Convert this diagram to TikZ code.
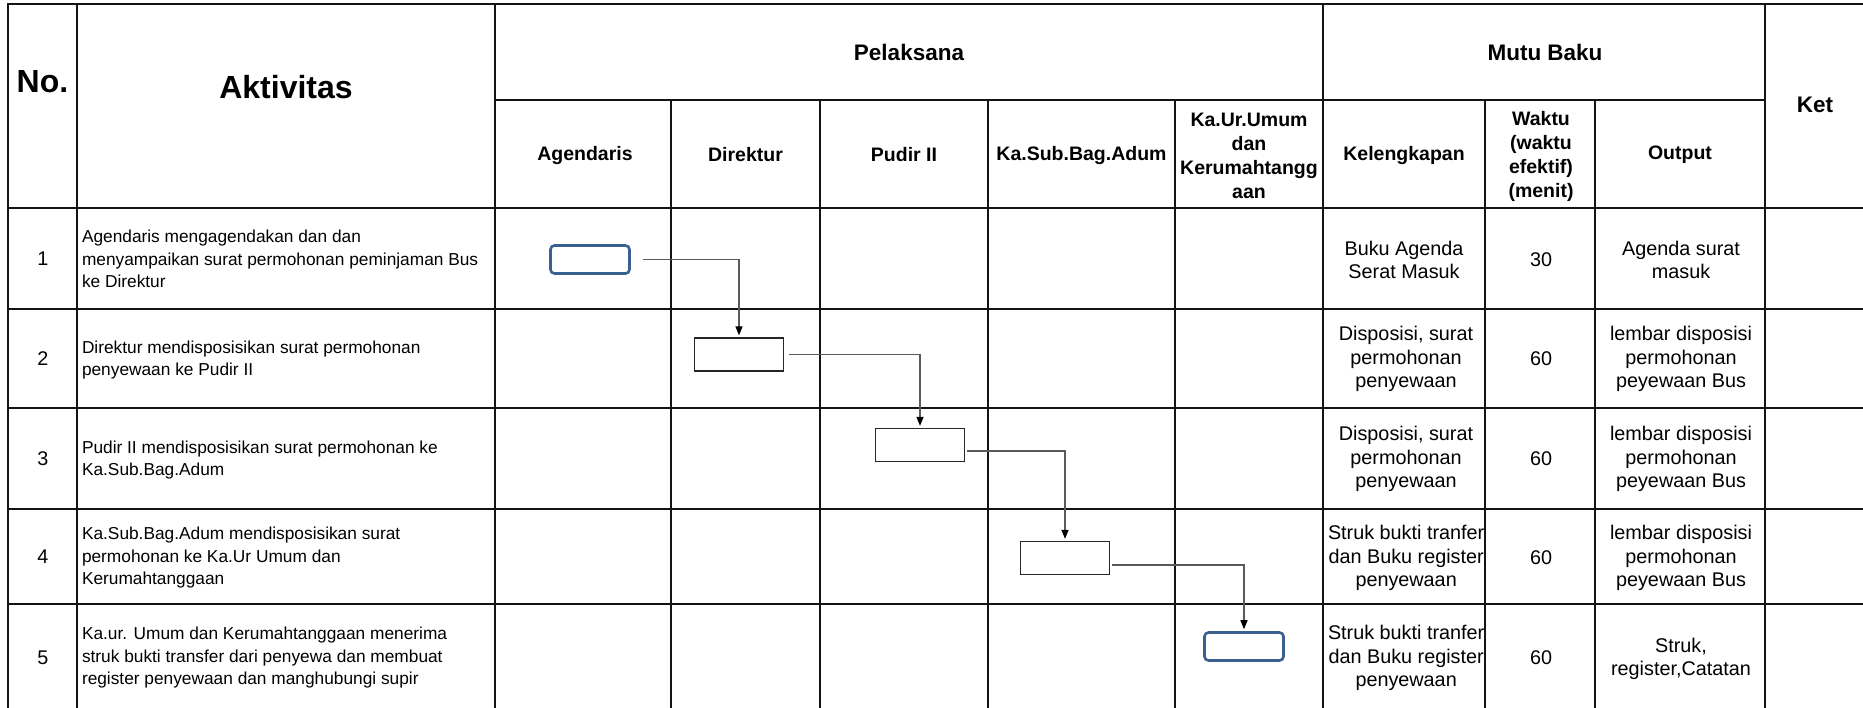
\documentclass[tikz,border=0pt]{standalone}
\usepackage{fontspec}
\setmainfont{Liberation Sans}
\usetikzlibrary{arrows.meta,calc}
\definecolor{boxblue}{RGB}{58,95,145}
\definecolor{arrowgray}{RGB}{90,90,90}
\definecolor{gridline}{RGB}{20,20,20}
\newcommand{\fbig}{\bfseries\fontsize{32}{36}\selectfont}
\newcommand{\fgroup}{\bfseries\fontsize{22.5}{26}\selectfont}
\newcommand{\fcol}{\bfseries\fontsize{19.5}{24}\selectfont}
\newcommand{\fbody}{\fontsize{17.3}{22.5}\selectfont}
\newcommand{\fmutu}{\fontsize{19.8}{23.6}\selectfont}
\begin{document}
\begin{tikzpicture}[x=1pt,y=-1pt,
  gridl/.style={line width=1.9pt, draw=gridline, line cap=rect},
  txt/.style={inner sep=0pt, outer sep=0pt},
  bigh/.style={txt, font=\fbig},
  grouph/.style={txt, font=\fgroup},
  colh/.style={txt, font=\fcol, align=center},
  body/.style={txt, font=\fbody, align=left, anchor=west},
  mutu/.style={txt, font=\fmutu, align=center},
  termbox/.style={draw=boxblue, line width=2.6pt, rounded corners=4pt, minimum width=79pt, minimum height=28pt, inner sep=0pt},
  procbox/.style={draw=black!85, line width=1.3pt, minimum width=89pt, minimum height=33pt, inner sep=0pt},
  flow/.style={draw=arrowgray, line width=1.3pt, -{Triangle[length=9pt,width=7pt,fill=black,color=black]}, shorten >=2pt}
]
\useasboundingbox (0,0) rectangle (1863,707);
\fill[white] (0,0) rectangle (1863,707);

% ---------- header texts ----------
\node[bigh] (hno) at (42.5,82) {No.};
\node[bigh] (hakt) at (286,87) {Aktivitas};
\node[grouph] (hpel) at (909,52) {Pelaksana};
\node[grouph] (hmutu) at (1545,52) {Mutu Baku};
\node[grouph] (hket) at (1815,105) {Ket};

\node[colh] (cagen) at (585,155) {Agendaris};
\node[colh] (cdir) at (745.5,155) {Direktur};
\node[colh] (cpud) at (904,155) {Pudir II};
\node[colh] (ckasub) at (1081.5,155) {Ka.Sub.Bag.Adum};
\node[colh] (ckaur) at (1249,156) {Ka.Ur.Umum\\dan\\Kerumahtangg\\aan};
\node[colh] (ckel) at (1404,155) {Kelengkapan};
\node[colh] (cwak) at (1541,156) {Waktu\\(waktu\\efektif)\\(menit)};
\node[colh] (cout) at (1680,155) {Output};

% ---------- numbers ----------
\node[mutu] (n1) at (43,259) {1};
\node[mutu] (n2) at (43,359) {2};
\node[mutu] (n3) at (43,459) {3};
\node[mutu] (n4) at (43,557) {4};
\node[mutu] (n5) at (43,658) {5};

% ---------- activities ----------
\node[body] (a1) at (82,259) {Agendaris mengagendakan dan dan\\menyampaikan surat permohonan peminjaman Bus\\ke Direktur};
\node[body] (a2) at (82,360) {Direktur mendisposisikan surat permohonan\\penyewaan ke Pudir II};
\node[body] (a3) at (82,460) {Pudir II mendisposisikan surat permohonan ke\\Ka.Sub.Bag.Adum};
\node[body] (a4) at (82,558) {Ka.Sub.Bag.Adum mendisposisikan surat\\permohonan ke Ka.Ur Umum dan\\Kerumahtanggaan};
\node[body] (a5) at (82,658) {Ka.ur. Umum dan Kerumahtanggaan menerima\\struk bukti transfer dari penyewa dan membuat\\register penyewaan dan manghubungi supir};

% ---------- mutu baku ----------
\node[mutu] (k1) at (1404,260) {Buku Agenda\\Serat Masuk};
\node[mutu] (k2) at (1406,359) {Disposisi, surat\\permohonan\\penyewaan};
\node[mutu] (k3) at (1406,459) {Disposisi, surat\\permohonan\\penyewaan};
\begin{scope}
\clip (1324,509) rectangle (1484,707);
\node[mutu, anchor=west] (k4) at (1328,558) {Struk bukti tranfer\\dan Buku register\\penyewaan};
\node[mutu, anchor=west] (k5) at (1328,658) {Struk bukti tranfer\\dan Buku register\\penyewaan};
\end{scope}

\node[mutu] (w1) at (1541,260) {30};
\node[mutu] (w2) at (1541,359) {60};
\node[mutu] (w3) at (1541,459) {60};
\node[mutu] (w4) at (1541,558) {60};
\node[mutu] (w5) at (1541,658) {60};

\node[mutu] (o1) at (1681,260) {Agenda surat\\masuk};
\node[mutu] (o2) at (1681,359) {lembar disposisi\\permohonan\\peyewaan Bus};
\node[mutu] (o3) at (1681,459) {lembar disposisi\\permohonan\\peyewaan Bus};
\node[mutu] (o4) at (1681,558) {lembar disposisi\\permohonan\\peyewaan Bus};
\node[mutu] (o5) at (1681,659) {Struk,\\register,Catatan};

% ---------- grid ----------
\draw[gridl] (8,4) -- (1863,4);
\draw[gridl] (495,100) -- (1765,100);
\foreach \yy in {208,309,408,509,604} \draw[gridl] (8,\yy) -- (1863,\yy);
\foreach \xx in {8,77,495,1323,1765} \draw[gridl] (\xx,4) -- (\xx,707);
\foreach \xx in {671,820,988,1175,1485,1595} \draw[gridl] (\xx,100) -- (\xx,707);

% ---------- flow shapes ----------
\node[termbox] (b1) at (590,259.5) {};
\node[procbox] (b2) at (739,354.5) {};
\node[procbox] (b3) at (920,445) {};
\node[procbox] (b4) at (1065,558) {};
\node[termbox] (b5) at (1244,646.5) {};

\draw[flow] ([xshift=12pt]b1.east) -| (b2.north);
\draw[flow] ([xshift=5pt]b2.east) -| (b3.north);
\draw[flow] ([xshift=2pt,yshift=-6pt]b3.east) -| (b4.north);
\draw[flow] ([xshift=2pt,yshift=-7pt]b4.east) -| (b5.north);
\end{tikzpicture}
\end{document}
